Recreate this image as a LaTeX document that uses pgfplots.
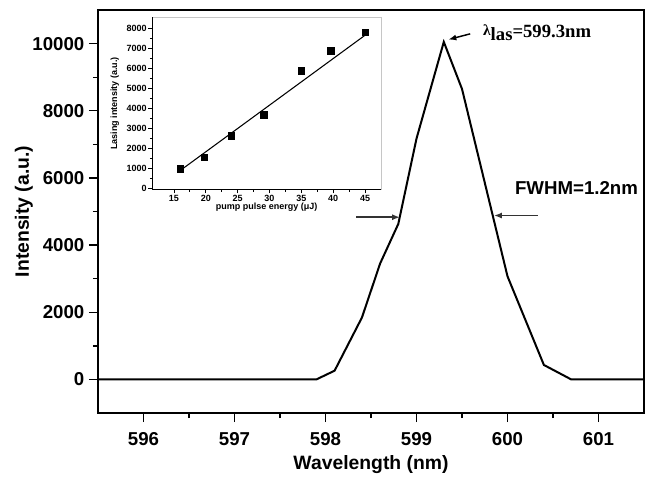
\documentclass[border=0pt]{standalone}
\usepackage{fontspec}
\setmainfont{Liberation Sans}
\newfontfamily\timesfont{Liberation Serif}
\usepackage{pgfplots}
\pgfplotsset{compat=1.18}
\usetikzlibrary{arrows.meta}

\pgfplotstableread{
x      y
595.5  0
597.9  0
598.1  260
598.4  1840
598.6  3450
598.8  4630
599.0  7170
599.3  10050
599.5  8650
600.0  3070
600.4  430
600.7  0
601.5  0
}\spectrum

\pgfplotstableread{
e     I
16    967
19.8  1550
24    2633
29.1  3683
35    5867
39.6  6883
45    7800
}\lasing

\begin{document}
\begin{tikzpicture}
\begin{axis}[
  at={(0,0)}, anchor=south west,
  width=409.5pt, height=302.25pt, scale only axis,
  xmin=595.5, xmax=601.5, ymin=-1000, ymax=11000,
  xtick={596,597,598,599,600,601}, minor x tick num=1,
  ytick={0,2000,4000,6000,8000,10000}, minor y tick num=1,
  tick align=outside, xtick pos=bottom, ytick pos=left,
  major tick length=6.75pt, minor tick length=3.75pt,
  axis line style={line width=1pt},
  every tick/.style={black, line width=1pt},
  scaled y ticks=false,
  /pgf/number format/1000 sep={},
  /pgf/number format/assume math mode=true,
  ticklabel style={font=\fontsize{14}{14}\selectfont\bfseries},
  xticklabel style={yshift=-4pt},
  label style={font=\fontsize{14.5}{15}\selectfont\bfseries},
  xlabel={Wavelength (nm)},
  ylabel={Intensity (a.u.)},
  xlabel style={at={([yshift=-39pt]rel axis cs:0.5,0)}, anchor=center},
  ylabel style={at={([xshift=-55.5pt]rel axis cs:0,0.5)}, anchor=center},
  clip=false,
]
\addplot[black, line width=1.5pt] table[x=x, y=y] {\spectrum};
\draw[-{Latex[length=6pt,width=4.5pt]}, line width=1.2pt, black!80] (axis cs:598.34,4830) -- (axis cs:598.82,4830);
\draw[-{Latex[length=6pt,width=4.5pt]}, line width=1.2pt, black!80] (axis cs:600.33,4880) -- (axis cs:599.85,4880);
\draw[-{Latex[length=6pt,width=4.5pt]}, line width=1.1pt, black] (axis cs:599.59,10290) -- (axis cs:599.35,10120);
\node[anchor=base west, inner sep=0, font=\timesfont\bfseries\fontsize{14}{14}\selectfont]
  at (axis cs:599.73,10170) {\raisebox{0.25ex}{\fontsize{11.5}{12}\selectfont λ}\raisebox{-0.35ex}{las}=599.3nm};
\node[anchor=base west, inner sep=0, font=\fontsize{14}{14}\selectfont\bfseries]
  at (axis cs:600.08,5520) {FWHM=1.2nm};
\end{axis}

\begin{axis}[
  at={(40.7pt,167.8pt)}, anchor=south west,
  width=171.5pt, height=129pt, scale only axis,
  xmin=11.6, xmax=47.5, ymin=-50, ymax=8550,
  xtick={15,20,25,30,35,40,45}, minor x tick num=1,
  ytick={0,1000,2000,3000,4000,5000,6000,7000,8000}, minor y tick num=1,
  tick align=outside, xtick pos=bottom, ytick pos=left,
  major tick length=3pt, minor tick length=1.8pt,
  axis line style={gray!45, line width=0.6pt},
  every tick/.style={black, line width=0.6pt},
  scaled y ticks=false,
  /pgf/number format/1000 sep={},
  /pgf/number format/assume math mode=true,
  ticklabel style={font=\fontsize{6.75}{7}\selectfont\bfseries, inner sep=1pt},
  label style={font=\fontsize{6.75}{7}\selectfont\bfseries},
  xlabel={pump pulse energy (μJ)},
  ylabel={Lasing intensity (a.u.)},
  xlabel style={at={([yshift=-13.5pt]rel axis cs:0.5,0)}, anchor=center},
  ylabel style={at={([xshift=-28pt]rel axis cs:0,0.5)}, anchor=center},
  clip=false,
]
\addplot[only marks, mark=square*, mark size=2.4pt, black] table[x=e, y=I] {\lasing};
\addplot[black, line width=0.8pt] coordinates {(16,890) (45,7650)};
\draw[black, line width=0.8pt] (rel axis cs:0,1) -- (rel axis cs:0,0) -- (rel axis cs:1,0);
\end{axis}
\pgfresetboundingbox
\path[use as bounding box] (-73.5pt,-49.5pt) rectangle (414pt,309.75pt);
\end{tikzpicture}
\end{document}
